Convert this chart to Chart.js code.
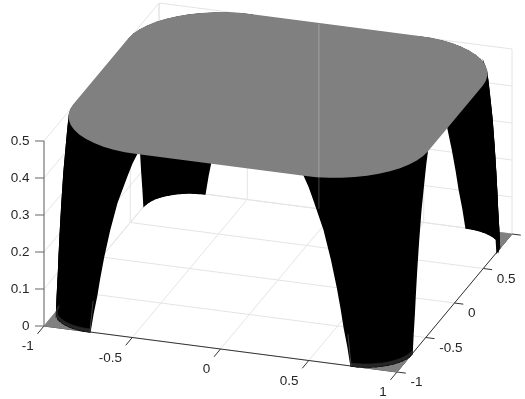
<!DOCTYPE html>
<html>
<head>
<meta charset="utf-8">
<style>html,body{margin:0;padding:0;background:#fff}canvas{display:block}</style>
<script src="https://cdn.jsdelivr.net/npm/chart.js@4"></script>
</head>
<body>
<canvas id="c" width="525" height="399"></canvas>
<script>
// Tick values and labels
const xyTicks = [-1, -0.5, 0, 0.5, 1];
const xyTickLabels = ['-1', '-0.5', '0', '0.5', '1'];
const zTicks = [0, 0.1, 0.2, 0.3, 0.4, 0.5];
const zTickLabels = ['0', '0.1', '0.2', '0.3', '0.4', '0.5'];

// Surface: corner radius of the leg cross-section at each height
const legHeights = [0.5, 0.47, 0.433, 0.358, 0.28, 0.207, 0.15, 0.1, 0.05, 0];
const legRadii = [0.527, 0.497, 0.468, 0.412, 0.37, 0.337, 0.315, 0.298, 0.277, 0.26];
const plateHeight = 0.5;
const plateRadius = 0.527;
const seamX = -0.094;
const baseShadeHeights = [0.008, 0];
const baseShadeRadii = [0.262, 0.26];
const streakHeights = [0.085, 0];
const streakRadii = [0.278, 0.26];

// Quarter-circle directions used for every rounded corner
const arcCos = [1, 0.991, 0.966, 0.924, 0.866, 0.793, 0.707, 0.609, 0.5, 0.383, 0.259, 0.131, 0];
const arcSin = [0, 0.131, 0.259, 0.383, 0.5, 0.609, 0.707, 0.793, 0.866, 0.924, 0.966, 0.991, 1];

// View transform of the 3D axes
function view(x, y, z) {
  return {
    x: 44 + (x + 1) * 176.5 + (y + 1) * 57.5,
    y: 326 + (x + 1) * 23 - (y + 1) * 69 - z * 370
  };
}
function arc(sx, sy, r, z) {
  return arcCos.map((c, i) => view(sx * (1 - r + r * c), sy * (1 - r + r * arcSin[i]), z));
}

const GRID = '#e4e4e4', AXIS = '#333333', ZAXIS = '#666666', GREY = '#808080', BLACK = '#000000';
const sets = [];
function line(a, b, color, w) {
  sets.push({data: [view(...a), view(...b)], borderColor: color, borderWidth: w || 1, polygon: false});
}
function poly(points, fill, w) {
  sets.push({data: points.concat([points[0]]), borderColor: fill, borderWidth: w === undefined ? 0.8 : w, polygon: true, polyFill: fill});
}
// Strips running down the leg between neighbouring directions of the corner arc
function legStrips(sx, sy, heights, radii, color, w) {
  const arcs = heights.map((z, k) => arc(sx, sy, radii[k], z));
  for (let i = 0; i + 1 < arcCos.length; i++) {
    const down = arcs.map(a => a[i]);
    const up = arcs.map(a => a[i + 1]).reverse();
    poly(down.concat(up), color, w);
  }
}

// Walls and floor grid
for (const z of zTicks) {
  line([-1, -1, z], [-1, 1, z], GRID);
  line([-1, 1, z], [1, 1, z], GRID);
}
for (const t of xyTicks) {
  line([t, -1, 0], [t, 1, 0], GRID);
  line([-1, t, 0], [1, t, 0], GRID);
  line([-1, t, 0], [-1, t, 0.5], GRID);
  line([t, 1, 0], [t, 1, 0.5], GRID);
}

// Axis lines and ticks
line([-1, -1, 0], [1, -1, 0], AXIS);
line([1, -1, 0], [1, 1, 0], AXIS);
line([-1, -1, 0], [-1, -1, 0.5], ZAXIS);
for (const t of xyTicks) {
  line([t, -1, 0], [t, -1.113, 0], AXIS);
  line([1, t, 0], [1.05, t, 0], AXIS);
}
for (const z of zTicks) line([-1, -1, z], [-1.046, -1.0153, z], ZAXIS);

// Legs: back pair first, then the front pair
const corners = [[-1, 1], [1, 1], [-1, -1], [1, -1]];
for (const [sx, sy] of corners) {
  poly(arc(sx, sy, legRadii[legRadii.length - 1], 0).concat([view(sx, sy, 0)]), GREY);
}
for (const [sx, sy] of corners) {
  legStrips(sx, sy, legHeights, legRadii, BLACK, 1.5);
  if (sy < 0) {
    legStrips(sx, sy, baseShadeHeights, baseShadeRadii, '#262626', 0.6);
    line([sx * (1 - streakRadii[1]), -1, streakHeights[1]],
         [sx * (1 - streakRadii[0]), -1, streakHeights[0]], '#404040', 1);
  }
}

// Flat top plate
const plate = [
  ...arc(1, 1, plateRadius, plateHeight),
  ...arc(-1, 1, plateRadius, plateHeight).reverse(),
  ...arc(-1, -1, plateRadius, plateHeight),
  ...arc(1, -1, plateRadius, plateHeight).reverse()
];
poly(plate, GREY, 2);

// Faint back-wall line showing through in the reference
line([seamX, 1, 0.5], [seamX, 1, 0], 'rgba(255,255,255,0.1)');

sets.forEach((d, i) => {
  d.order = -i; d.pointRadius = 0; d.tension = 0; d.showLine = true; d.fill = false; d.clip = false;
});

// Fills closed mark outlines using the points the scales have placed
const polygonFill = {
  id: 'polygonFill',
  beforeDatasetDraw(chart, args) {
    const ds = chart.data.datasets[args.index];
    if (!ds.polygon) return;
    const pts = args.meta.data, ctx = chart.ctx;
    ctx.save();
    ctx.beginPath();
    pts.forEach((p, i) => i ? ctx.lineTo(p.x, p.y) : ctx.moveTo(p.x, p.y));
    ctx.closePath();
    ctx.fillStyle = ds.polyFill;
    ctx.fill();
    ctx.restore();
  }
};

// 3D axis tick labels
const tickText = {
  id: 'tickText',
  afterDraw(chart) {
    const ctx = chart.ctx, sx = chart.scales.x, sy = chart.scales.y;
    ctx.save();
    ctx.font = '13.5px "Liberation Sans", Arial, sans-serif';
    ctx.fillStyle = '#262626';
    ctx.textBaseline = 'middle';
    const put = (p, dx, dy, text, align) => {
      ctx.textAlign = align;
      ctx.fillText(text, sx.getPixelForValue(p.x) + dx, sy.getPixelForValue(p.y) + dy);
    };
    xyTicks.forEach((t, i) => {
      put(view(t, -1, 0), -10.3, 20.5, xyTickLabels[i], 'right');
      put(view(1, t, 0), 13.5, 10.5, xyTickLabels[i], 'left');
    });
    zTicks.forEach((z, i) => put(view(-1, -1, z), -14.5, 0, zTickLabels[i], 'right'));
    ctx.restore();
  }
};

new Chart(document.getElementById('c'), {
  type: 'scatter',
  data: {datasets: sets},
  plugins: [polygonFill, tickText],
  options: {
    responsive: false,
    animation: false,
    layout: {padding: 0},
    events: [],
    plugins: {legend: {display: false}, tooltip: {enabled: false}, title: {display: false}},
    scales: {
      x: {type: 'linear', min: 0, max: 525, display: false},
      y: {type: 'linear', min: 0, max: 399, reverse: true, display: false}
    }
  }
});
</script>
</body>
</html>
